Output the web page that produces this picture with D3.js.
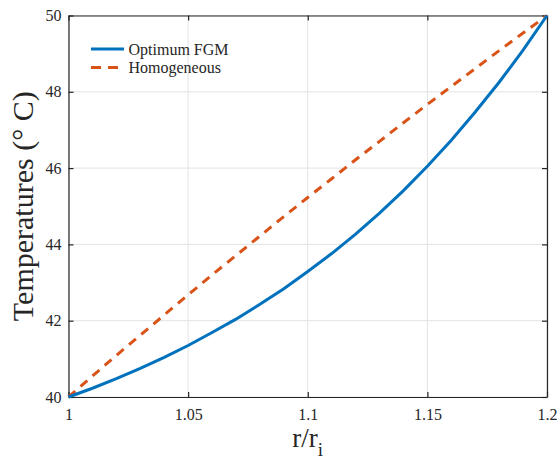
<!DOCTYPE html>
<html><head><meta charset="utf-8">
<script src="https://cdn.jsdelivr.net/npm/d3@7"></script>
<style>body{margin:0;background:#fff}svg{display:block}svg text{font-family:"Liberation Serif","Times New Roman",Times,serif !important;fill:#262626}</style>
</head><body><svg id="c" width="558" height="461"></svg>
<script>
const xValues = [1.00,1.01,1.02,1.03,1.04,1.05,1.06,1.07,1.08,1.09,1.10,1.11,1.12,1.13,1.14,1.15,1.16,1.17,1.18,1.19,1.20];
const optimumFGM = [40.00,40.23,40.48,40.75,41.04,41.35,41.69,42.04,42.43,42.84,43.29,43.76,44.27,44.82,45.41,46.05,46.73,47.47,48.25,49.09,50.00];
const homogeneous = [40.00,40.55,41.09,41.62,42.15,42.68,43.20,43.71,44.22,44.73,45.23,45.72,46.22,46.70,47.19,47.67,48.14,48.61,49.08,49.54,50.00];
const xTicks = [1, 1.05, 1.1, 1.15, 1.2];
const xTickLabels = ["1","1.05","1.1","1.15","1.2"];
const yTicks = [40, 42, 44, 46, 48, 50];
const seriesNames = ["Optimum FGM", "Homogeneous"];

const svg = d3.select("#c");
const L = 68.5, R = 547, T = 15.5, B = 397;
const x = d3.scaleLinear().domain([1, 1.2]).range([L, R]);
const y = d3.scaleLinear().domain([40, 50]).range([B, T]);
const ax = "#262626";
const serif = '"Liberation Serif","Times New Roman",Times,serif';

// grid
svg.append("g").selectAll("line").data(xTicks).join("line")
  .attr("x1", d => x(d)).attr("x2", d => x(d)).attr("y1", T).attr("y2", B)
  .attr("stroke", "#e3e3e3").attr("stroke-width", 1);
svg.append("g").selectAll("line").data(yTicks).join("line")
  .attr("y1", d => y(d)).attr("y2", d => y(d)).attr("x1", L).attr("x2", R)
  .attr("stroke", "#e3e3e3").attr("stroke-width", 1);

// axes
const xAxis = svg.append("g").attr("transform", `translate(0,${B})`)
  .call(d3.axisBottom(x).tickValues(xTicks).tickFormat((d,i) => xTickLabels[i]).tickSizeInner(-5).tickSizeOuter(0).tickPadding(11.5));
const xAxisTop = svg.append("g").attr("transform", `translate(0,${T})`)
  .call(d3.axisTop(x).tickValues(xTicks).tickFormat("").tickSizeInner(-5).tickSizeOuter(0));
const yAxis = svg.append("g").attr("transform", `translate(${L},0)`)
  .call(d3.axisLeft(y).tickValues(yTicks).tickFormat(d3.format("d")).tickSizeInner(-5).tickSizeOuter(0).tickPadding(7));
const yAxisR = svg.append("g").attr("transform", `translate(${R},0)`)
  .call(d3.axisRight(y).tickValues(yTicks).tickFormat("").tickSizeInner(-5).tickSizeOuter(0));
[xAxis, xAxisTop, yAxis, yAxisR].forEach(g => {
  g.attr("font-family", serif);
  g.select(".domain").attr("stroke", ax).attr("stroke-width", 1.2);
  g.selectAll(".tick line").attr("stroke", ax).attr("stroke-width", 1.2);
  g.selectAll(".tick text").style("font-family", serif).attr("font-size", 16).attr("fill", ax);
});

// lines
const line = d3.line().x((d, i) => x(xValues[i])).y(d => y(d));
svg.append("path").datum(homogeneous).attr("d", line).attr("fill", "none")
  .attr("stroke", "#D95319").attr("stroke-width", 3).attr("stroke-dasharray", "9,7");
svg.append("path").datum(optimumFGM).attr("d", line).attr("fill", "none")
  .attr("stroke", "#0072BD").attr("stroke-width", 3);

// legend
const lg = svg.append("g");
const colors = ["#0072BD", "#D95319"];
const dashes = [null, "10,7"];
seriesNames.forEach((n, i) => {
  const yy = 49 + i * 18.6;
  lg.append("line").attr("x1", 91).attr("x2", 124).attr("y1", yy).attr("y2", yy)
    .attr("stroke", colors[i]).attr("stroke-width", 3).attr("stroke-dasharray", dashes[i]);
  lg.append("text").attr("x", 128.5).attr("y", yy + 5.5).attr("font-size", 16).style("font-family", serif).text(n);
});

// axis labels
svg.append("text").attr("transform", `translate(33,${(T + B) / 2}) rotate(-90)`)
  .attr("text-anchor", "middle").attr("font-size", 30).style("font-family", serif).text("Temperatures (° C)");
const xl = svg.append("text").attr("x", (L + R) / 2).attr("y", 446.5).attr("text-anchor", "middle").attr("font-size", 27).style("font-family", serif);
xl.append("tspan").text("r/r");
xl.append("tspan").attr("font-size", 19).attr("dy", 9.5).text("i");
</script></body></html>
